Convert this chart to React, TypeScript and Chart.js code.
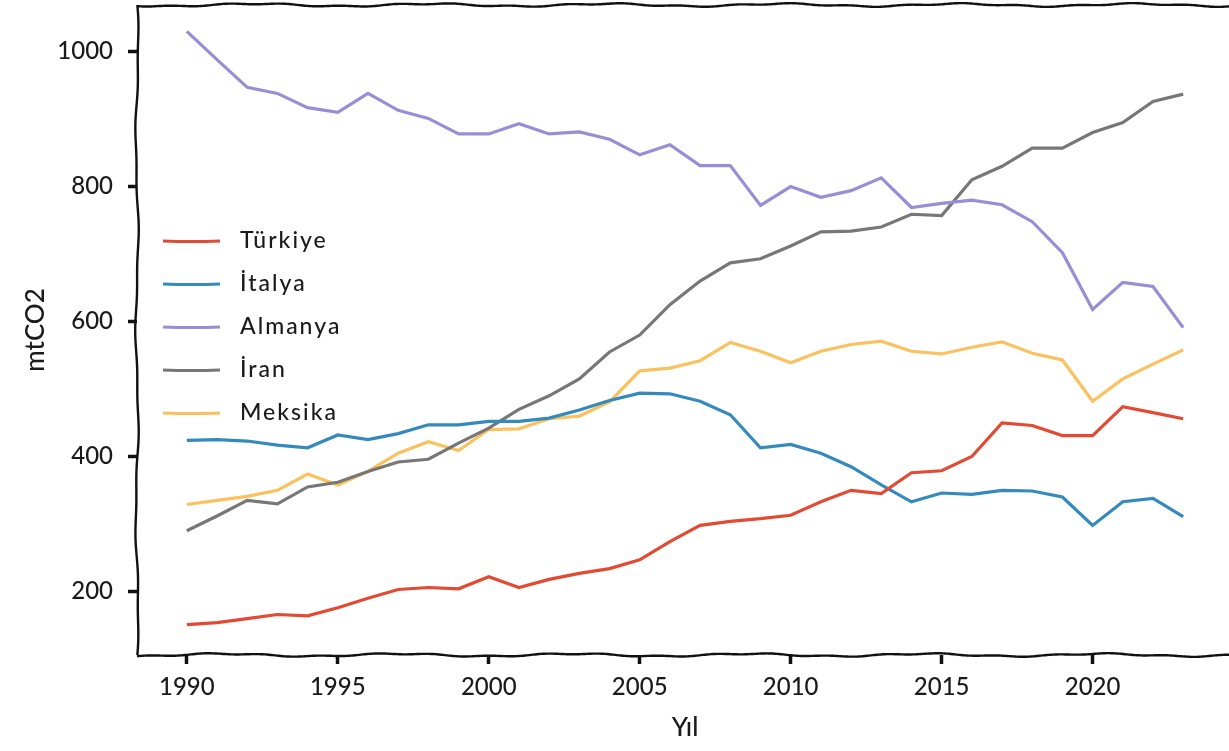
import React, { useEffect, useRef } from "react";
import { Chart, registerables } from "chart.js";

Chart.register(...registerables);

const years = [1990,1991,1992,1993,1994,1995,1996,1997,1998,1999,2000,2001,2002,2003,2004,2005,2006,2007,2008,2009,2010,2011,2012,2013,2014,2015,2016,2017,2018,2019,2020,2021,2022,2023];

const turkiye = [151,154,160,166,164,176,190,203,206,204,222,206,218,227,234,247,274,298,304,308,313,333,350,345,376,379,400,450,446,431,431,474,465,456];
const italya = [424,425,423,417,413,432,425,434,447,447,452,452,457,469,483,494,493,482,462,413,418,405,385,358,333,346,344,350,349,340,298,333,338,311];
const almanya = [1030,988,947,938,917,910,938,913,901,878,878,893,878,881,870,847,862,831,831,772,800,784,794,813,769,775,780,773,748,702,618,658,652,591];
const iran = [290,312,335,330,355,362,378,392,396,420,442,470,490,515,555,580,625,660,687,693,712,733,734,740,759,757,810,830,857,857,880,895,926,937];
const meksika = [329,335,341,350,374,358,378,405,422,409,440,441,456,460,481,527,531,542,569,556,539,556,566,571,556,552,562,570,553,543,482,515,537,558];

const seriesNames = ["Türkiye", "İtalya", "Almanya", "İran", "Meksika"];
const seriesColors = ["#E24A33", "#348ABD", "#988ED5", "#777777", "#FBC15E"];
const xTicks = [1990, 1995, 2000, 2005, 2010, 2015, 2020];
const yTicks = [200, 400, 600, 800, 1000];

const FONT = "Lato, 'DejaVu Sans', sans-serif";

const wavyFrame = {
  id: "wavyFrame",
  afterDatasetsDraw(chart: any) {
    const { ctx, chartArea } = chart;
    const { left, right, top, bottom } = chartArea;
    ctx.save();
    ctx.strokeStyle = "#111";
    ctx.lineWidth = 2.4;
    ctx.lineJoin = "round";
    const hLine = (y: number, phase: number) => {
      ctx.beginPath();
      for (let x = left; x <= right; x += 2) {
        const dy = 1.3 * Math.sin((x - left) / 28 + phase) + 0.6 * Math.sin((x - left) / 9 + phase * 2);
        if (x === left) ctx.moveTo(x, y + dy);
        else ctx.lineTo(x, y + dy);
      }
      ctx.stroke();
    };
    const vLine = (x: number, phase: number) => {
      ctx.beginPath();
      for (let y = top; y <= bottom; y += 2) {
        const dx = 1.3 * Math.sin((y - top) / 30 + phase) + 0.5 * Math.sin((y - top) / 11 + phase);
        if (y === top) ctx.moveTo(x + dx, y);
        else ctx.lineTo(x + dx, y);
      }
      ctx.stroke();
    };
    hLine(top, 0.5);
    hLine(bottom, 1.7);
    vLine(left, 0.2);
    vLine(right, 2.1);
    ctx.restore();
  },
};

const innerLegend = {
  id: "innerLegend",
  afterDraw(chart: any) {
    const { ctx } = chart;
    ctx.save();
    const x0 = 163;
    const lineLen = 57;
    const textX = 240;
    const y0 = 241;
    const dy = 43;
    ctx.font = `500 23px ${FONT}`;
    (ctx as any).letterSpacing = "2px";
    ctx.textBaseline = "middle";
    ctx.textAlign = "left";
    seriesNames.forEach((name, i) => {
      const y = y0 + i * dy;
      ctx.strokeStyle = seriesColors[i];
      ctx.lineWidth = 3.2;
      ctx.beginPath();
      ctx.moveTo(x0, y);
      ctx.quadraticCurveTo(x0 + lineLen / 2, y + 1, x0 + lineLen, y);
      ctx.stroke();
      ctx.fillStyle = "#1a1a1a";
      ctx.fillText(name, textX, y);
    });
    ctx.restore();
  },
};

export default function App() {
  const canvasRef = useRef<HTMLCanvasElement | null>(null);

  useEffect(() => {
    document.body.style.margin = "0";
    const canvas = canvasRef.current;
    if (!canvas) return;
    const dataLists = [turkiye, italya, almanya, iran, meksika];
    const chart = new Chart(canvas, {
      type: "line",
      data: {
        datasets: dataLists.map((vals, i) => ({
          label: seriesNames[i],
          data: years.map((y, j) => ({ x: y, y: vals[j] })),
          borderColor: seriesColors[i],
          backgroundColor: seriesColors[i],
          borderWidth: 3.2,
          pointRadius: 0,
          tension: 0,
          fill: false,
        })),
      },
      options: {
        animation: false,
        responsive: false,
        maintainAspectRatio: false,
        layout: { padding: { top: 5, right: 7, left: 0, bottom: 0 } },
        plugins: {
          legend: { display: false },
          tooltip: { enabled: false },
        },
        scales: {
          x: {
            type: "linear",
            min: 1988.35,
            max: 2024.65,
            afterBuildTicks: (scale: any) => {
              scale.ticks = xTicks.map((v) => ({ value: v }));
            },
            afterFit: (scale: any) => {
              scale.height = 96;
              scale.paddingLeft = 0;
              scale.paddingRight = 0;
            },
            border: { display: false },
            grid: {
              drawOnChartArea: false,
              drawTicks: true,
              tickLength: 9,
              tickWidth: 3.5,
              tickColor: "#111",
            },
            ticks: {
              color: "#1a1a1a",
              font: { family: FONT, size: 24, weight: "500" },
              padding: 9,
              maxRotation: 0,
              callback: (v: any) => String(v),
            },
            title: {
              display: true,
              text: "Yıl",
              color: "#1a1a1a",
              font: { family: FONT, size: 26, weight: "500" },
              padding: { top: 0, bottom: 8 },
            },
          },
          y: {
            type: "linear",
            min: 106,
            max: 1069,
            afterBuildTicks: (scale: any) => {
              scale.ticks = yTicks.map((v) => ({ value: v }));
            },
            afterFit: (scale: any) => {
              scale.width = 137;
              scale.paddingTop = 0;
              scale.paddingBottom = 0;
            },
            border: { display: false },
            grid: {
              drawOnChartArea: false,
              drawTicks: true,
              tickLength: 9,
              tickWidth: 3.5,
              tickColor: "#111",
            },
            ticks: {
              color: "#1a1a1a",
              font: { family: FONT, size: 24, weight: "500" },
              padding: 15,
              callback: (v: any) => String(v),
            },
            title: {
              display: true,
              text: "mtCO2",
              color: "#1a1a1a",
              font: { family: FONT, size: 26, weight: "500" },
              padding: { top: 20, bottom: 0 },
            },
          },
        },
      },
      plugins: [wavyFrame, innerLegend],
    });
    return () => chart.destroy();
  }, []);

  return (
    <div
      style={{
        position: "fixed",
        left: 0,
        top: 0,
        width: 1229,
        height: 751,
        overflow: "hidden",
        background: "#fff",
      }}
    >
      <canvas ref={canvasRef} width={1240} height={751} style={{ display: "block" }} />
    </div>
  );
}
